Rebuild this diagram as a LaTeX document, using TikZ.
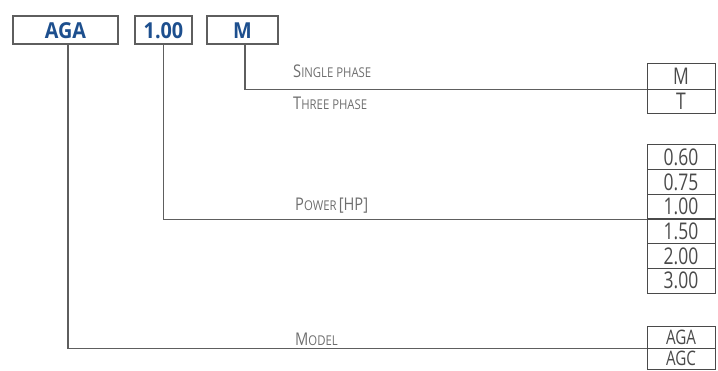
\documentclass[tikz,border=0pt]{standalone}
\usepackage{fontspec}
\setmainfont{Open Sans}
\newfontfamily\valfont[FakeStretch=0.76]{Open Sans}
\newfontfamily\labfont[FakeStretch=0.84]{Open Sans}
\newfontfamily\topfont[FakeStretch=0.9]{Open Sans}
\definecolor{codeblue}{HTML}{1D4F8E}
\definecolor{linegray}{HTML}{5E5E5E}
\definecolor{labgray}{HTML}{6E6E6E}
\definecolor{valgray}{HTML}{4A4A4A}
\newcommand\mysc[2]{{\fontsize{17.5}{17.5}\selectfont #1}{\fontsize{13.5}{14}\selectfont #2}}
\newcommand\mybig[1]{{\fontsize{17.5}{17.5}\selectfont #1}}
\tikzset{
  x=1pt, y=-1pt,
  topbox/.style={draw=linegray, line width=1.3pt, fill=white, minimum height=28pt,
    inner sep=0pt, text=codeblue, font=\topfont\bfseries\fontsize{22}{22}\selectfont,
    text height=16pt, text depth=0pt},
  cell/.style={draw=valgray, line width=1pt, minimum width=68pt, inner sep=0pt,
    text=valgray, font=\valfont\fontsize{23}{23}\selectfont, text height=16.5pt, text depth=0pt},
  modcell/.style={cell, font=\valfont\fontsize{20}{20}\selectfont, text height=14.5pt},
  conn/.style={draw=linegray, line width=1.2pt},
  lab/.style={anchor=base west, inner sep=0pt, text=labgray, font=\labfont}
}
\begin{document}
\begin{tikzpicture}
\useasboundingbox (0,0) rectangle (718,370);
% top code boxes
\node[topbox, minimum width=105pt] (aga) at (65.5,30) {AGA};
\node[topbox, minimum width=57pt] (pow) at (163.5,30) {1.00};
\node[topbox, minimum width=71pt] (ph) at (242.5,30) {M};
% phase cells
\node[cell, minimum height=26pt] (ph1) at (681,76) {M};
\node[cell, minimum height=24pt] (ph2) at (681,101) {T};
% power cells
\node[cell, minimum height=24.67pt] (p1) at (681,157.33) {0.60};
\node[cell, minimum height=24.67pt] (p2) at (681,182) {0.75};
\node[cell, minimum height=24.67pt] (p3) at (681,206.67) {1.00};
\node[cell, minimum height=24.67pt] (p4) at (681,231.33) {1.50};
\node[cell, minimum height=24.67pt] (p5) at (681,256) {2.00};
\node[cell, minimum height=24.67pt] (p6) at (681,280.67) {3.00};
% model cells
\node[modcell, minimum height=22pt] (m1) at (681,337) {AGA};
\node[modcell, minimum height=21pt] (m2) at (681,358.5) {AGC};
% labels
\node[lab] (lsp) at (293,77) {\mysc{S}{INGLE PHASE}};
\node[lab] (ltp) at (293,109) {\mysc{T}{HREE PHASE}};
\node[lab] (lpw) at (295,210) {\mysc{P}{OWER} \mybig{[HP]}};
\node[lab] (lmd) at (295,345) {\mysc{M}{ODEL}};
% connectors
\draw[conn] ([xshift=2.5pt]ph.south) |- (ph1.south west);
\draw[conn] (pow.south) |- (p3.south west);
\draw[conn] ([xshift=2.5pt]aga.south) |- (m1.south west);
\end{tikzpicture}
\end{document}
